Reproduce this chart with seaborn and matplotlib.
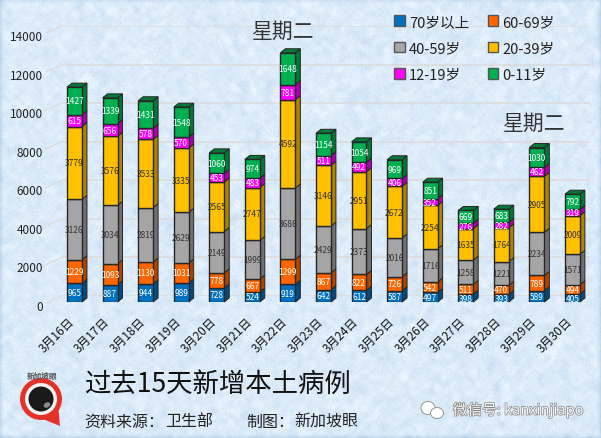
import numpy as np
import pandas as pd
import matplotlib
matplotlib.use("Agg")
import matplotlib.pyplot as plt
import matplotlib.colors as mc
import matplotlib.patheffects as pe
from matplotlib.patches import Polygon, Circle, Ellipse, Patch
from matplotlib.transforms import ScaledTranslation
import seaborn as sns

dates = ["3月16日", "3月17日", "3月18日", "3月19日", "3月20日", "3月21日", "3月22日", "3月23日",
         "3月24日", "3月25日", "3月26日", "3月27日", "3月28日", "3月29日", "3月30日"]
age70 = [965, 887, 944, 989, 728, 524, 919, 642, 612, 587, 497, 398, 393, 589, 405]
age60 = [1229, 1093, 1130, 1031, 778, 667, 1299, 867, 822, 726, 542, 511, 470, 789, 494]
age40 = [3126, 3034, 2819, 2629, 2149, 1999, 3686, 2429, 2373, 2016, 1716, 1258, 1221, 2234, 1571]
age20 = [3779, 3576, 3533, 3335, 2565, 2747, 4592, 3146, 2951, 2672, 2254, 1635, 1764, 2905, 2009]
age12 = [615, 656, 578, 570, 453, 483, 781, 511, 492, 406, 352, 276, 282, 462, 319]
age0 = [1427, 1339, 1431, 1548, 1060, 974, 1648, 1154, 1054, 969, 851, 669, 683, 1030, 792]
groups = ["70岁以上", "60-69岁", "40-59岁", "20-39岁", "12-19岁", "0-11岁"]
series = [age70, age60, age40, age20, age12, age0]
colors = ["#0070C0", "#FF6600", "#A5A5A5", "#FFC000", "#FF00FF", "#00B050"]
label_colors = ["white", "white", "#333333", "#333333", "white", "white"]
yticks = [0, 2000, 4000, 6000, 8000, 10000, 12000, 14000]

W, H = 601, 439
sns.set_theme(style="white")
plt.rcParams["font.family"] = ["Noto Sans CJK SC", "DejaVu Sans"]
fig = plt.figure(figsize=(W / 100, H / 100), dpi=100)


def px_axes(left, top, right, bottom, **kw):
    # axes placed by pixel box of the picture
    return fig.add_axes([left / W, 1 - bottom / H, (right - left) / W, (bottom - top) / H], **kw)


# paper like background
bg = px_axes(0, 0, W, H, zorder=-2)
yy, xx = np.mgrid[0:H, 0:W]
grain = np.sin(xx * 12.9898 + yy * 78.233) * 43758.5453
grain = grain - np.floor(grain)


def blur(a, n):
    k = np.ones(n) / n
    a = np.apply_along_axis(lambda r: np.convolve(r, k, mode="same"), 0, a)
    return np.apply_along_axis(lambda r: np.convolve(r, k, mode="same"), 1, a)


tex = (blur(grain, 3) - 0.5) * 0.14 + (blur(grain, 9) - 0.5) * 0.35
base = np.array(mc.to_rgb("#dcebf9"))
img = np.clip(base[None, None, :] + tex[:, :, None] * np.array([1.0, 0.7, 0.4]), 0, 1)
bg.imshow(img, aspect="auto")
bg.axis("off")

# back wall grid, sits a bit higher and to the right of the bars
wall = px_axes(62, 27, 590, 297, zorder=-1)
wall.set_ylim(0, 14000)
wall.set_xlim(0, 1)
wall.set_yticks(yticks)
wall.set_xticks([])
wall.tick_params(left=False, labelleft=False)
wall.grid(axis="y", color="#dcdcdc", lw=1.2)
wall.patch.set_alpha(0)
sns.despine(ax=wall, left=True, bottom=True)

ax = px_axes(56.7, 33, 590.2, 303, zorder=1)
ax.patch.set_alpha(0)
bottom = np.zeros(len(dates))
for g, vals, c in zip(groups, series, colors):
    sns.barplot(x=dates, y=vals, color=c, saturation=1, width=0.42, bottom=bottom, ax=ax,
                edgecolor="#262626", linewidth=1.0, errorbar=None, zorder=3)
    bottom = bottom + np.array(vals)

ax.set_xlim(-0.5, 14.5)
ax.set_ylim(0, 14000)
ax.set_yticks(yticks)
ax.set_yticklabels([str(v) for v in yticks], fontsize=8.5, color="#222222")
ax.tick_params(axis="y", length=0, pad=10)
ax.tick_params(axis="x", length=0, pad=9)
ax.set_xticks(range(len(dates)))
ax.set_xticklabels(dates, rotation=45, ha="right", rotation_mode="anchor", fontsize=8.6, color="#111111",
                   fontweight="medium")
shift = ScaledTranslation(0, -3 / 100, fig.dpi_scale_trans)
for t in ax.get_yticklabels():
    t.set_transform(t.get_transform() + shift)
shift_x = ScaledTranslation(-7 / 100, 0, fig.dpi_scale_trans)
for t in ax.get_xticklabels():
    t.set_transform(t.get_transform() + shift_x)
ax.set_xlabel("")
ax.set_ylabel("")
sns.despine(ax=ax, left=True, bottom=True)

# fake 3d depth of each bar
dx = 5 / 35.57
dy = 4 / 270 * 14000
for i, cont in enumerate(ax.containers):
    side = tuple(v * 0.68 for v in mc.to_rgb(colors[i]))
    for rect in cont:
        x1 = rect.get_x() + rect.get_width()
        x0 = rect.get_x()
        y0 = rect.get_y()
        y1 = y0 + rect.get_height()
        ax.add_patch(Polygon([(x1, y0), (x1 + dx, y0 + dy), (x1 + dx, y1 + dy), (x1, y1)], closed=True,
                             fc=side, ec="#262626", lw=0.7, zorder=2.5, clip_on=False))
        if i == len(ax.containers) - 1:
            ax.add_patch(Polygon([(x0, y1), (x0 + dx, y1 + dy), (x1 + dx, y1 + dy), (x1, y1)], closed=True,
                                 fc=side, ec="#262626", lw=0.7, zorder=2.5, clip_on=False))
    ax.bar_label(cont, label_type="center", fontsize=6, color=label_colors[i], zorder=5)

handles = [Patch(fc=c, ec="#555555", lw=1) for c in colors]
order = [0, 2, 4, 1, 3, 5]
fig.legend([handles[i] for i in order], [groups[i] for i in order], ncol=2, frameon=False,
           loc="upper left", bbox_to_anchor=(387 / W, 1 - 8.5 / H), fontsize=10.5, handlelength=0.72,
           handleheight=0.72, handletextpad=0.3, labelspacing=0.85, columnspacing=1.25, borderpad=0,
           labelcolor="#222222")

# everything else in picture pixels
deco = px_axes(0, 0, W, H, zorder=3)
deco.set_xlim(0, W)
deco.set_ylim(H, 0)
deco.axis("off")
deco.patch.set_alpha(0)
for v in yticks:
    y = 297 - v / 14000 * 270
    deco.plot([46, 62], [y + 7, y], color="#dcdcdc", lw=1, zorder=0)
deco.text(283, 32, "星期二", fontsize=15, color="#333333", ha="center", va="center")
deco.text(534, 124, "星期二", fontsize=15, color="#333333", ha="center", va="center")
deco.text(85, 384, "过去15天新增本土病例", fontsize=19, color="#111111", ha="left", va="center")
deco.text(84, 422, "资料来源：", fontsize=11.5, color="#222222", ha="left", va="center")
deco.text(165, 422, "卫生部", fontsize=11.5, color="#222222", ha="left", va="center")
deco.text(246, 422, "制图：", fontsize=11.5, color="#222222", ha="left", va="center")
deco.text(294, 422, "新加坡眼", fontsize=11.5, color="#222222", ha="left", va="center")

# logo
deco.add_patch(Polygon([(28, 414), (60, 427), (58, 405)], closed=True, fc="#e5332a", ec="none"))
deco.add_patch(Circle((41, 400), 21, fc="#e5332a", ec="none"))
deco.add_patch(Circle((41, 400), 16, fc="#f4f4f4", ec="none"))
deco.add_patch(Circle((41, 400), 12.5, fc="#1a1a1a", ec="none"))
deco.add_patch(Ellipse((47, 406), 7, 5, angle=-30, fc="#8a8a8a", ec="none"))
deco.text(42, 376, "新加坡眼", fontsize=5.5, color="#555555", ha="center", va="center", fontweight="bold")

# wechat mark
deco.add_patch(Ellipse((428, 409), 14, 13, fc="white", ec="#888888", lw=0.6))
deco.add_patch(Ellipse((437, 414), 13, 11, fc="white", ec="#888888", lw=0.6))
deco.text(453, 411, "微信号: kanxinjiapo", fontsize=10.5, color="#f7f7f7", ha="left", va="center",
          path_effects=[pe.withStroke(linewidth=1.0, foreground="#888888")])

fig.savefig("out.png", dpi=100)
